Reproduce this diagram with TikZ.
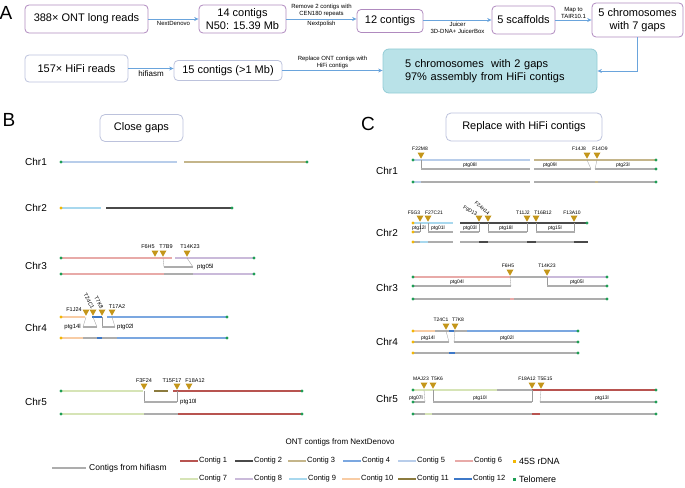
\documentclass[tikz,border=0pt]{standalone}
\usepackage{fontspec}
\setsansfont{Liberation Sans}
\usetikzlibrary{arrows.meta}
\definecolor{ctg1}{HTML}{B85450}
\definecolor{ctg2}{HTML}{4A4A4A}
\definecolor{ctg3}{HTML}{C4B58A}
\definecolor{ctg4}{HTML}{7BA7E0}
\definecolor{ctg5}{HTML}{B8CDEA}
\definecolor{ctg6}{HTML}{E8AAA8}
\definecolor{ctg7}{HTML}{D6E4B6}
\definecolor{ctg8}{HTML}{CABADA}
\definecolor{ctg9}{HTML}{A8D8EE}
\definecolor{ctg10}{HTML}{F8CCA4}
\definecolor{ctg11}{HTML}{8C7B3E}
\definecolor{ctg12}{HTML}{3D78C8}
\definecolor{hgrey}{HTML}{ADADAD}
\definecolor{rdna}{HTML}{F2B705}
\definecolor{telo}{HTML}{1E9E55}
\definecolor{gold}{HTML}{C4961A}
\definecolor{cpurple}{HTML}{B08ABF}
\definecolor{cgreyblue}{HTML}{BCC2DC}
\definecolor{cblue}{HTML}{6AA4DC}
\definecolor{cteal}{HTML}{B9E2E8}
\definecolor{ctealdark}{HTML}{93CCD6}
\definecolor{clink}{HTML}{9A9A9A}
\tikzset{
  every picture/.style={font=\sffamily},
  ontbox/.style={draw=cpurple, rounded corners=4pt, line width=0.8pt, align=center, inner sep=1pt, font=\sffamily\fontsize{11}{12.5}\selectfont},
  hifibox/.style={ontbox, draw=cgreyblue},
  finalbox/.style={fill=cteal, draw=ctealdark, rounded corners=6pt, line width=0.8pt, align=left, font=\sffamily\fontsize{11}{13.5}\selectfont},
  titlebox/.style={draw=cgreyblue, rounded corners=5pt, line width=0.8pt, font=\sffamily\fontsize{11}{13}\selectfont},
  flow/.style={-{Stealth[length=4.5pt, width=4pt]}, draw=cblue, line width=0.8pt},
  steplab/.style={font=\sffamily\fontsize{6}{7}\selectfont, align=center, inner sep=1.5pt},
  panel/.style={font=\sffamily\fontsize{19}{20}\selectfont},
  chrlab/.style={anchor=west, inner sep=0pt, font=\sffamily\fontsize{10}{12}\selectfont},
  bar/.style={draw=#1, line width=2.2pt},
  link/.style={draw=clink, line width=0.3pt},
  mklab/.style={inner sep=0pt, font=\sffamily\fontsize{5.5}{6}\selectfont},
  ptglab/.style={inner sep=0pt, font=\sffamily\fontsize{6}{7}\selectfont},
  tinylab/.style={inner sep=0pt, font=\sffamily\fontsize{5}{6}\selectfont},
  legbar/.style={draw=#1, line width=2pt},
  leglab/.style={anchor=west, inner sep=1pt, font=\sffamily\fontsize{7.5}{9}\selectfont},
}

\begin{document}
\begin{tikzpicture}[x=1pt, y=-1pt]
  \useasboundingbox (0,0) rectangle (685,487);
  % panel A: assembly workflow
  \node[panel] (pA) at (6,13) {A};
  \node[ontbox, minimum width=123pt, minimum height=28pt] (ont) at (86.5,19) {388× ONT long reads};
  \node[ontbox, minimum width=87pt, minimum height=28pt] (c14) at (242.5,19) {14 contigs\\N50: 15.39 Mb};
  \node[ontbox, minimum width=66pt, minimum height=23pt] (c12) at (390,21) {12 contigs};
  \node[ontbox, minimum width=63pt, minimum height=28pt] (scaf) at (523.5,20) {5 scaffolds};
  \node[ontbox, minimum width=91pt, minimum height=34pt] (chr7) at (637.5,20) {5 chromosomes\\with 7 gaps};
  \node[hifibox, minimum width=103pt, minimum height=27pt] (hifi) at (76.5,68.5) {157× HiFi reads};
  \node[hifibox, minimum width=108pt, minimum height=20pt] (c15) at (228,70.5) {15 contigs (>1 Mb)};
  \node[finalbox, minimum width=214pt, minimum height=44pt, text width=170pt, inner xsep=22pt] (chr2g) at (490,71) {5 chromosomes\ \ with 2 gaps\\97\% assembly from HiFi contigs};
  \draw[flow] (ont) -- node[steplab, below] (lnext) {NextDenovo} (c14);
  \draw[flow] (c14) -- node[steplab, above] (lrm) {Remove 2 contigs with\\CEN180 repeats} node[steplab, below] (lpol) {Nextpolish} (c14 -| c12.west);
  \draw[flow] (c12.east |- scaf) -- node[steplab, below] (ljuic) {Juicer\\3D-DNA+ JuicerBox} (scaf);
  \draw[flow] (scaf) -- node[steplab, above] (lmap) {Map to\\TAIR10.1} (chr7);
  \draw[flow] (chr7.south) |- (chr2g.east);
  \draw[flow] (hifi) -- node[steplab, below, font=\sffamily\fontsize{8}{9}\selectfont] (lhif) {hifiasm} (hifi -| c15.west);
  \draw[flow] (c15) -- node[steplab, above] (lrep) {Replace ONT contigs with\\HiFi contigs} (c15 -| chr2g.west);

  % panel B: close gaps
  \node[panel] (pB) at (9,120) {B};
  \node[titlebox, minimum width=83pt, minimum height=27pt] (tB) at (141.5,128) {Close gaps};
  \node[chrlab] (b1) at (25,162) {Chr1};
  \begin{scope}[shift={(0,162)}]
    \foreach \a/\b/\c in {61/177/ctg5, 184/307/ctg3} \draw[bar=\c] (\a,0) -- (\b,0);
    \foreach \x in {61,307} \fill[telo] (\x,0) circle (1.7pt);
  \end{scope}
  \node[chrlab] (b2) at (25,208) {Chr2};
  \begin{scope}[shift={(0,208)}]
    \foreach \a/\b/\c in {61/101/ctg9, 106/232/ctg2} \draw[bar=\c] (\a,0) -- (\b,0);
    \fill[rdna] (61,0) circle (1.7pt);
    \fill[telo] (232,0) circle (1.7pt);
  \end{scope}
  \node[chrlab] (b3) at (25,266) {Chr3};
  \begin{scope}[shift={(0,258)}]
    \foreach \a/\b/\c in {61/172/ctg6, 175/253/ctg8} \draw[bar=\c] (\a,0) -- (\b,0);
    \foreach \x/\t/\lx in {155/F6H5/148, 163/T7B9/166, 187/T14K23/190} {
      \fill[gold] (\x-3.5,-7.5) -- (\x+3.5,-7.5) -- (\x,-1.3) -- cycle;
      \node[mklab] (b3-\t) at (\lx,-11) {\t};
    }
    \draw[link] (163,0) -- (164,9);
    \draw[link] (187,0) -- (193,9);
    \draw[bar=hgrey] (164,9) -- (193,9);
    \node[ptglab, anchor=west] (b3-p05) at (197,9) {ptg05l};
    \foreach \a/\b/\c in {61/164/ctg6, 164/193/hgrey, 193/254/ctg8} \draw[bar=\c] (\a,16) -- (\b,16);
    \foreach \x in {61,254} \foreach \y in {0,16} \fill[telo] (\x,\y) circle (1.7pt);
  \end{scope}
  \node[chrlab] (b4) at (25,328) {Chr4};
  \begin{scope}[shift={(0,317)}]
    \foreach \a/\b/\c in {61/85/ctg10, 92/102/ctg12, 107/227/ctg4} \draw[bar=\c] (\a,0) -- (\b,0);
    \foreach \x in {86,93,102,112} \fill[gold] (\x-3.5,-7.5) -- (\x+3.5,-7.5) -- (\x,-1.3) -- cycle;
    \node[mklab] (b4-F1J24) at (74,-7) {F1J24};
    \node[mklab, rotate=-62, anchor=east] (b4-T24C1) at (93,-8.5) {T24C1};
    \node[mklab, rotate=-62, anchor=east] (b4-T7K8) at (102,-8.5) {T7K8};
    \node[mklab] (b4-T17A2) at (117,-10) {T17A2};
    \foreach \x/\y in {86/83, 93/97, 102/102, 112/115} \draw[link] (\x,0) -- (\y,10);
    \foreach \a/\b in {83/97, 102/115} \draw[bar=hgrey] (\a,10) -- (\b,10);
    \node[ptglab, anchor=east] (b4-p14) at (81,10) {ptg14l};
    \node[ptglab, anchor=west] (b4-p02) at (117,10) {ptg02l};
    \foreach \a/\b/\c in {61/83/ctg10, 83/97/hgrey, 97/102/ctg12, 102/117/hgrey, 117/227/ctg4} \draw[bar=\c] (\a,21) -- (\b,21);
    \foreach \y in {0,21} {
      \fill[rdna] (61,\y) circle (1.7pt);
      \fill[telo] (227,\y) circle (1.7pt);
    }
  \end{scope}
  \node[chrlab] (b5) at (25,402) {Chr5};
  \begin{scope}[shift={(0,391)}]
    \foreach \a/\b/\c in {61/143/ctg7, 154/168/ctg11, 173/302/ctg1} \draw[bar=\c] (\a,0) -- (\b,0);
    \foreach \x/\t/\lx in {144/F3F24/144, 177/T15F17/172, 189/F18A12/195} {
      \fill[gold] (\x-3.5,-7.5) -- (\x+3.5,-7.5) -- (\x,-1.3) -- cycle;
      \node[mklab] (b5-\t) at (\lx,-10) {\t};
    }
    \foreach \x in {144,177} \draw[link] (\x,0) -- (\x,11);
    \draw[bar=hgrey] (144,11) -- (177,11);
    \node[ptglab, anchor=west] (b5-p10) at (180,11) {ptg10l};
    \foreach \a/\b/\c in {61/144/ctg7, 144/178/hgrey, 178/302/ctg1} \draw[bar=\c] (\a,23) -- (\b,23);
    \foreach \x in {61,302} \foreach \y in {0,23} \fill[telo] (\x,\y) circle (1.7pt);
  \end{scope}

  % panel C: replace with HiFi contigs
  \node[panel] (pC) at (368,124) {C};
  \node[titlebox, minimum width=156pt, minimum height=28pt] (tC) at (524,127) {Replace with HiFi contigs};
  \node[chrlab] (c1) at (376,171) {Chr1};
  \begin{scope}[shift={(0,160)}]
    \foreach \a/\b/\c in {413/530/ctg5, 534/656/ctg3} \draw[bar=\c] (\a,0) -- (\b,0);
    \foreach \x/\t/\lx in {421/F22M8/420, 587/F14J8/579, 597/F14O9/600} {
      \fill[gold] (\x-3.5,-7.5) -- (\x+3.5,-7.5) -- (\x,-1.3) -- cycle;
      \node[tinylab] (c1-\t) at (\lx,-11) {\t};
    }
    \foreach \x/\y in {421/421, 587/591, 597/595} \draw[link] (\x,0) -- (\y,9);
    \foreach \a/\b in {421/530, 534/591, 595/656} \draw[bar=hgrey] (\a,9) -- (\b,9);
    \foreach \x/\t in {470/ptg08l, 550/ptg09l, 623/ptg23l} \node[tinylab] (c1-\t) at (\x,5) {\t};
    \foreach \a/\b/\c in {413/421/ctg5, 421/530/hgrey, 534/595/hgrey, 595/598/ctg3, 598/656/hgrey} \draw[bar=\c] (\a,22) -- (\b,22);
    \foreach \x/\y in {413/0, 656/0, 656/9, 413/22, 656/22} \fill[telo] (\x,\y) circle (1.7pt);
  \end{scope}
  \node[chrlab] (c2) at (376,233) {Chr2};
  \begin{scope}[shift={(0,223)}]
    \foreach \a/\b/\c in {413/453/ctg9, 460/587/ctg2} \draw[bar=\c] (\a,0) -- (\b,0);
    \foreach \x in {420,428,479,488,527,536,574} {
      \fill[gold] (\x-3.5,-7.5) -- (\x+3.5,-7.5) -- (\x,-1.3) -- cycle;
      \draw[link] (\x,0) -- (\x,9);
    }
    \foreach \lx/\t in {414/F5G3, 434/F27C21, 523/T11J2, 543/T16B12, 572/F13A10} \node[tinylab] (c2-\t) at (\lx,-10) {\t};
    \node[tinylab, rotate=-28, anchor=east] (c2-F9D13) at (477,-8.5) {F9D13};
    \node[tinylab, rotate=-42, anchor=east] (c2-F24H14) at (489,-9) {F24H14};
    \foreach \a/\b in {413/420, 428/453, 460/479, 488/527, 536/575} \draw[bar=hgrey] (\a,9) -- (\b,9);
    \foreach \x/\t in {419/ptg12l, 438/ptg01l, 470/ptg03l, 506/ptg18l, 555/ptg15l} \node[tinylab] (c2-\t) at (\x,5) {\t};
    \foreach \a/\b/\c in {413/420/hgrey, 420/428/ctg9, 428/453/hgrey, 460/479/hgrey, 479/488/ctg2, 488/527/hgrey, 527/536/ctg2, 536/574/hgrey, 574/588/ctg2} \draw[bar=\c] (\a,19) -- (\b,19);
    \foreach \y in {0,9,19} \fill[rdna] (413,\y) circle (1.7pt);
    \fill[telo] (587,0) circle (1.7pt);
  \end{scope}
  \node[chrlab] (c3) at (376,288) {Chr3};
  \begin{scope}[shift={(0,277)}]
    \foreach \a/\b/\c in {413/510/ctg6, 510/547/hgrey, 547/607/ctg8} \draw[bar=\c] (\a,0) -- (\b,0);
    \foreach \x/\t/\lx in {510/F6H5/508, 547/T14K23/547} {
      \fill[gold] (\x-3.5,-7.5) -- (\x+3.5,-7.5) -- (\x,-1.3) -- cycle;
      \node[tinylab] (c3-\t) at (\lx,-11) {\t};
    }
    \draw[link] (510,0) -- (511,9);
    \draw[link] (547,0) -- (547,9);
    \foreach \a/\b in {413/511, 547/607} \draw[bar=hgrey] (\a,9) -- (\b,9);
    \foreach \x/\t in {457/ptg04l, 577/ptg05l} \node[tinylab] (c3-\t) at (\x,5) {\t};
    \foreach \a/\b/\c in {413/510/hgrey, 510/514/ctg6, 514/607/hgrey} \draw[bar=\c] (\a,22) -- (\b,22);
    \foreach \x in {413,607} \foreach \y in {0,9,22} \fill[telo] (\x,\y) circle (1.7pt);
  \end{scope}
  \node[chrlab] (c4) at (376,342) {Chr4};
  \begin{scope}[shift={(0,331)}]
    \foreach \a/\b/\c in {413/435/ctg10, 435/449/hgrey, 449/454/ctg12, 454/467/hgrey, 467/578/ctg4} \draw[bar=\c] (\a,0) -- (\b,0);
    \foreach \x/\t/\lx in {446/T24C1/441, 455/T7K8/458} {
      \fill[gold] (\x-3.5,-7.5) -- (\x+3.5,-7.5) -- (\x,-1.3) -- cycle;
      \node[tinylab] (c4-\t) at (\lx,-11) {\t};
    }
    \draw[link] (446,0) -- (449,11);
    \draw[link] (455,0) -- (454,11);
    \foreach \a/\b in {413/449, 454/578} \draw[bar=hgrey] (\a,11) -- (\b,11);
    \foreach \x/\t in {428/ptg14l, 507/ptg02l} \node[tinylab] (c4-\t) at (\x,7) {\t};
    \foreach \a/\b/\c in {413/449/hgrey, 449/455/ctg12, 455/578/hgrey} \draw[bar=\c] (\a,22) -- (\b,22);
    \foreach \y in {0,11,22} {
      \fill[rdna] (413,\y) circle (1.7pt);
      \fill[telo] (578,\y) circle (1.7pt);
    }
  \end{scope}
  \node[chrlab] (c5) at (376,399) {Chr5};
  \begin{scope}[shift={(0,390)}]
    \foreach \a/\b/\c in {413/497/ctg7, 497/532/hgrey, 532/656/ctg1} \draw[bar=\c] (\a,0) -- (\b,0);
    \foreach \x/\t/\lx in {424/MAJ23/421, 433/T5K6/437, 532/F18A12/527, 541/T5E15/545} {
      \fill[gold] (\x-3.5,-7.5) -- (\x+3.5,-7.5) -- (\x,-1.3) -- cycle;
      \node[tinylab] (c5-\t) at (\lx,-11) {\t};
    }
    \foreach \x/\y in {424/425, 433/433, 532/532, 541/540} \draw[link] (\x,0) -- (\y,12);
    \foreach \a/\b in {413/425, 433/532, 540/656} \draw[bar=hgrey] (\a,12) -- (\b,12);
    \foreach \x/\t in {416/ptg07l, 480/ptg10l, 602/ptg13l} \node[tinylab] (c5-\t) at (\x,8) {\t};
    \foreach \a/\b/\c in {413/425/hgrey, 425/432/ctg7, 432/532/hgrey, 532/540/ctg1, 540/656/hgrey} \draw[bar=\c] (\a,24) -- (\b,24);
    \foreach \x in {413,656} \foreach \y in {0,12,24} \fill[telo] (\x,\y) circle (1.7pt);
  \end{scope}

  % legend
  \node[font=\sffamily\fontsize{8}{10}\selectfont] (legont) at (340,442) {ONT contigs from NextDenovo};
  \draw[legbar=hgrey] (52,468) -- (86,468);
  \node[leglab, font=\sffamily\fontsize{8.5}{10}\selectfont] (leghifi) at (88,468) {Contigs from hifiasm};
  \foreach \i/\x/\y in {1/180/461, 2/235/461, 3/288/461, 4/343/461, 5/398/461, 6/455/461,
                        7/180/479, 8/235/479, 9/289/479, 10/342/479, 11/398/479, 12/454/479} {
    \draw[legbar=ctg\i] (\x,\y) -- (\x+18,\y);
    \node[leglab] (leg\i) at (\x+18,\y) {Contig \i};
  }
  \fill[rdna] (512.5,459.5) rectangle (515.5,462.5);
  \node[leglab, font=\sffamily\fontsize{9}{10}\selectfont] (legrdna) at (518,461) {45S rDNA};
  \fill[telo] (512.5,477.5) rectangle (515.5,480.5);
  \node[leglab, font=\sffamily\fontsize{9}{10}\selectfont] (legtel) at (518,479) {Telomere};
\end{tikzpicture}
\end{document}
